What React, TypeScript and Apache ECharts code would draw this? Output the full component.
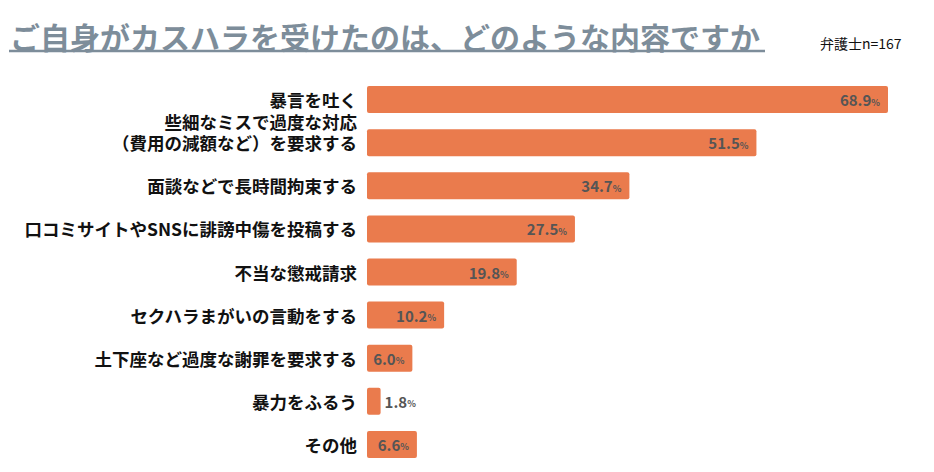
import React, { useEffect, useRef } from "react";
import * as echarts from "echarts";

const categories = [
  "暴言を吐く",
  "些細なミスで過度な対応\n（費用の減額など）を要求する",
  "面談などで長時間拘束する",
  "口コミサイトやSNSに誹謗中傷を投稿する",
  "不当な懲戒請求",
  "セクハラまがいの言動をする",
  "土下座など過度な謝罪を要求する",
  "暴力をふるう",
  "その他",
];
const values = [68.9, 51.5, 34.7, 27.5, 19.8, 10.2, 6.0, 1.8, 6.6];
const titleText = "ご自身がカスハラを受けたのは、どのような内容ですか";
const noteText = "弁護士n=167";

const FONT = '"Noto Sans CJK JP", "Noto Sans", sans-serif';

export default function App() {
  const ref = useRef<HTMLDivElement>(null);
  useEffect(() => {
    const chart = echarts.init(ref.current!, undefined, { renderer: "svg" });
    const labelRich = {
      v: { fontSize: 15, fontWeight: "bold", color: "#555", fontFamily: FONT },
      p: { fontSize: 9, fontWeight: "bold", color: "#555", fontFamily: FONT, padding: [5, 0, 0, 0] },
    };
    chart.setOption({
      animation: false,
      textStyle: { fontFamily: FONT },
      graphic: [
        {
          type: "text",
          x: 2,
          y: 28,
          style: {
            text: titleText,
            fontSize: 30,
            fontWeight: "bold",
            fill: "#7d8d9a",
            fontFamily: FONT,
            verticalAlign: "middle",
          },
        },
        {
          type: "line",
          shape: { x1: 1, y1: 43, x2: 757, y2: 43 },
          style: { stroke: "#7d8d9a", lineWidth: 2.5 },
        },
        {
          type: "text",
          x: 812,
          y: 35,
          style: { text: noteText, fontSize: 14, fill: "#111", fontFamily: FONT, verticalAlign: "middle" },
        },
      ],
      grid: { left: 359, top: 70, width: 552, height: 388, containLabel: false },
      xAxis: {
        type: "value",
        min: 0,
        max: 73,
        show: false,
      },
      yAxis: {
        type: "category",
        data: categories,
        inverse: true,
        axisLine: { show: false },
        axisTick: { show: false },
        axisLabel: {
          interval: 0,
          hideOverlap: false,
          margin: 10,
          fontSize: 17.5,
          fontWeight: "bold",
          color: "#111",
          fontFamily: FONT,
          lineHeight: 21,
          align: "right",
          formatter: (v: string) => (v.includes("\n") ? v + "\n " : v),
        },
      },
      series: [
        {
          type: "bar",
          barWidth: 27,
          data: values.map((v) => ({
            value: v,
            label: v < 4 ? { position: "right", distance: 4 } : undefined,
          })),
          itemStyle: { color: "#EA7B4D", borderRadius: 2 },
          label: {
            show: true,
            position: "insideRight",
            distance: 8,
            formatter: (p: any) => `{v|${p.value.toFixed(1)}}{p|%}`,
            rich: labelRich,
          },
        },
      ],
    });
    return () => chart.dispose();
  }, []);
  return <div ref={ref} style={{ width: 918, height: 464 }} />;
}
